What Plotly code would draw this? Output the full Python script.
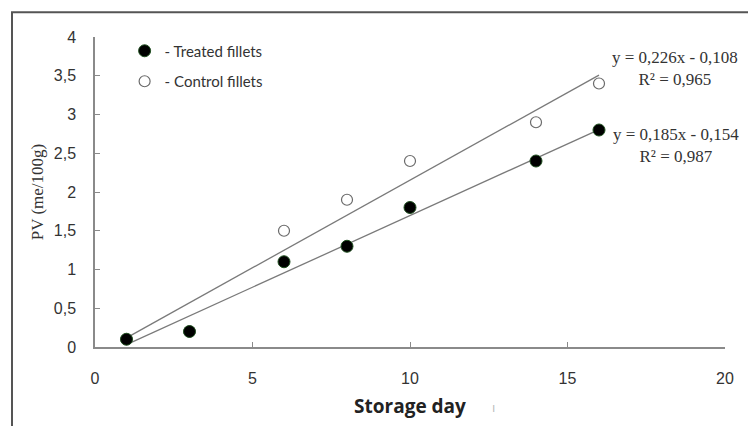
import plotly.graph_objects as go

# ---- data ----
treated_days = [1, 3, 6, 8, 10, 14, 16]
treated_pv = [0.1, 0.2, 1.1, 1.3, 1.8, 2.4, 2.8]
control_days = [1, 3, 6, 8, 10, 14, 16]
control_pv = [0.1, 0.2, 1.5, 1.9, 2.4, 2.9, 3.4]

# trendline coefficients as printed on the chart
treated_slope, treated_icpt, treated_r2 = 0.185, -0.154, 0.987
control_slope, control_icpt, control_r2 = 0.226, -0.108, 0.965
trend_x = [1, 16]

x_ticks = [0, 5, 10, 15, 20]
y_ticks = [0, 0.5, 1, 1.5, 2, 2.5, 3, 3.5, 4]

fig = go.Figure()

# trendlines
fig.add_trace(go.Scatter(
    x=trend_x, y=[control_slope * v + control_icpt for v in trend_x],
    mode="lines", line=dict(color="#7a7a7a", width=1.3),
    showlegend=False, hoverinfo="skip"))
fig.add_trace(go.Scatter(
    x=trend_x, y=[treated_slope * v + treated_icpt for v in trend_x],
    mode="lines", line=dict(color="#7a7a7a", width=1.3),
    showlegend=False, hoverinfo="skip"))

# points
fig.add_trace(go.Scatter(
    x=control_days, y=control_pv, mode="markers", name="- Control fillets",
    legendrank=2, legendgroup="c",
    marker=dict(symbol="circle", size=11, color="white",
                line=dict(color="#6a6a6a", width=1.2))))
fig.add_trace(go.Scatter(
    x=treated_days, y=treated_pv, mode="markers", name="- Treated fillets",
    legendrank=1, legendgroup="t",
    marker=dict(symbol="circle", size=12, color="black",
                line=dict(color="#1f4f1f", width=1))))

serif = "Liberation Serif, Times New Roman, serif"
sans = "Liberation Sans, Arial, sans-serif"

def fmt(v):
    return f"{abs(v):.3f}".replace(".", ",")

annotations = [
    dict(xref="paper", yref="paper", x=0.921, y=0.90, xanchor="center", yanchor="middle",
         text=f"y = {fmt(control_slope)}x - {fmt(control_icpt)}<br>R² = {fmt(control_r2)}",
         showarrow=False, align="center", font=dict(family=serif, size=17, color="#333")),
    dict(xref="paper", yref="paper", x=0.923, y=0.651, xanchor="center", yanchor="middle",
         text=f"y = {fmt(treated_slope)}x - {fmt(treated_icpt)}<br>R² = {fmt(treated_r2)}",
         showarrow=False, align="center", font=dict(family=serif, size=17, color="#333")),
    dict(xref="paper", yref="paper", x=(493 - 95) / 630, y=(349 - 410) / 312,
         xanchor="center", yanchor="middle", text="ı", showarrow=False,
         font=dict(family=sans, size=12, color="#bbbbbb")),
]

shapes = [
    dict(type="rect", xref="paper", yref="paper",
         x0=(12 - 95) / 630, x1=1.2, y0=-0.4, y1=(349 - 12) / 312,
         line=dict(color="#555555", width=2), fillcolor="rgba(0,0,0,0)", layer="below"),
]

fig.update_layout(
    width=748, height=426,
    margin=dict(l=95, r=23, t=37, b=77),
    paper_bgcolor="white", plot_bgcolor="white",
    separators=", ",
    showlegend=True,
    legend=dict(x=0.047, y=1.008, xanchor="left", yanchor="top",
                bgcolor="rgba(0,0,0,0)", tracegroupgap=8,
                font=dict(family="Lato, Open Sans, sans-serif", size=15, color="#333")),
    annotations=annotations,
    shapes=shapes,
    xaxis=dict(range=[0, 20], tickvals=x_ticks, showgrid=False, zeroline=False,
               showline=True, linecolor="#8a8a8a", linewidth=1.5,
               ticks="inside", ticklen=5, tickcolor="#8a8a8a",
               tickfont=dict(family=sans, size=16, color="#333"),
               ticklabelstandoff=16,
               title=dict(text="<b>Storage day</b>", standoff=14,
                          font=dict(family="Open Sans, Lato, sans-serif", size=19, color="#222"))),
    yaxis=dict(range=[0, 4], tickvals=y_ticks, showgrid=False, zeroline=False,
               showline=True, linecolor="#8a8a8a", linewidth=1.5,
               ticks="inside", ticklen=5, tickcolor="#8a8a8a",
               tickfont=dict(family=sans, size=16, color="#333"),
               ticklabelstandoff=14,
               title=dict(text="PV (me/100g)", standoff=6,
                          font=dict(family=serif, size=17, color="#333"))),
)

fig.write_html("out.html")
